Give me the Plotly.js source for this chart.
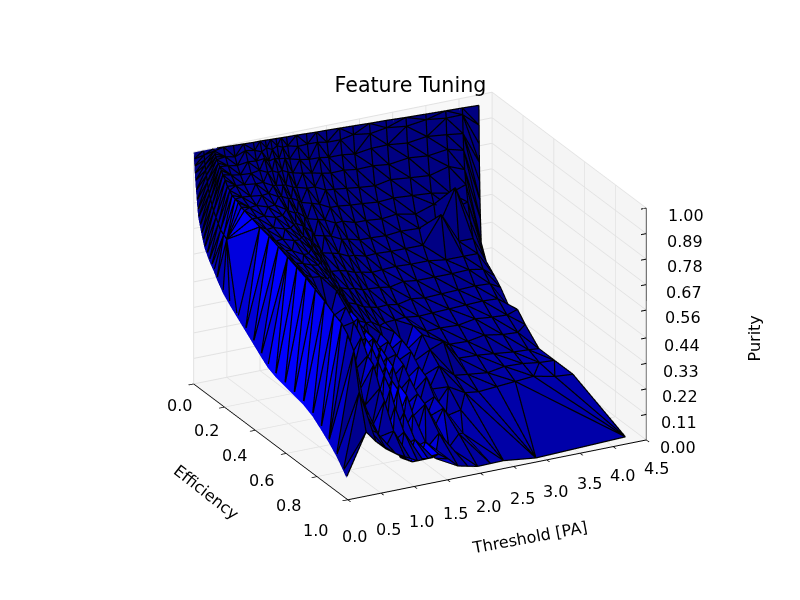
<!DOCTYPE html>
<html><head><meta charset="utf-8">
<script src="https://cdn.plot.ly/plotly-3.0.1.min.js"></script>
<style>html,body{margin:0;background:#fff}#c{width:800px;height:600px}</style></head>
<body><div id="c"></div>
<script>
const thresholds=[0,.15,.3,.45,.6,.75,.9,1.0,1.08,1.16,1.24,1.32,1.4,1.55,1.7,1.85,2.0,2.2,2.4,2.65,2.9,3.2,3.5,3.8,4.05,4.3];
const efficiency=[
[0,.002,.004,.007,.01,.015,.02,.025,.03,.04,.05,.06,.07,.085,.1,.115,.13,.15,.19,.235,.285,.335,.385,.435,.48,.53,.59,.65,.71,.77,.825,.875,.925,.97,.99],
[0,.003,.006,.009,.013,.018,.024,.03,.037,.045,.055,.065,.08,.095,.11,.13,.15],
[0,.005,.01,.015,.02,.03,.04,.05,.06,.075,.09,.105,.12,.14,.16,.18,.2,.25,.3,.36,.42,.48,.54,.6,.66,.72,.78,.83,.87,.91,.945,.9898],
[0,.012,.03,.05,.08,.12,.17,.22,.28,.34,.4,.47,.53,.6,.66,.71,.76,.8,.84,.87,.9,.94,.9896],
[0,.01,.025,.045,.07,.11,.15,.2,.26,.32,.38,.45,.51,.57,.63,.68,.73,.77,.81,.85,.88,.93,.989],
[0,.013,.03,.05,.08,.12,.16,.21,.27,.33,.39,.44,.5,.56,.61,.67,.71,.75,.79,.83,.87,.92,.9888],
[0,.009,.02,.04,.065,.1,.14,.19,.24,.3,.36,.42,.48,.54,.6,.65,.7,.74,.78,.82,.85,.91,.988],
[0,.012,.03,.05,.085,.12,.17,.22,.27,.33,.39,.45,.51,.56,.62,.66,.71,.75,.79,.82,.86,.91,.9878],
[0,.008,.022,.045,.07,.105,.15,.2,.25,.31,.37,.43,.49,.55,.6,.65,.69,.73,.77,.81,.84,.9,.9875],
[0,.011,.028,.05,.08,.115,.16,.21,.26,.32,.38,.44,.5,.54,.59,.64,.68,.72,.76,.8,.85,.9,.987],
[0,.008,.02,.04,.065,.1,.14,.19,.24,.3,.36,.42,.47,.53,.58,.63,.67,.71,.75,.79,.83,.9,.9867],
[0,.01,.025,.045,.075,.11,.15,.2,.25,.31,.37,.41,.46,.52,.57,.62,.66,.7,.74,.78,.84,.9,.9862],
[0,.007,.02,.04,.065,.095,.135,.18,.23,.29,.35,.4,.45,.5,.56,.61,.65,.69,.73,.78,.82,.9,.9858],
[0,.009,.022,.04,.07,.1,.14,.18,.23,.28,.34,.39,.45,.5,.55,.6,.64,.68,.73,.78,.84,.9,.9848],
[0,.006,.018,.035,.055,.085,.12,.16,.21,.26,.31,.37,.42,.48,.53,.58,.63,.67,.72,.77,.86,.9837],
[0,.008,.02,.035,.06,.09,.125,.165,.21,.25,.3,.35,.41,.46,.51,.56,.62,.66,.71,.76,.86,.9826],
[0,.005,.015,.03,.05,.075,.105,.14,.18,.225,.27,.33,.38,.44,.49,.55,.6,.65,.7,.76,.86,.9814],
[0,.006,.016,.028,.045,.07,.1,.13,.17,.21,.26,.31,.36,.42,.47,.52,.58,.63,.69,.8,.9795],
[0,.004,.012,.025,.04,.06,.085,.115,.15,.19,.24,.29,.34,.39,.45,.5,.56,.62,.7,.9775],
[0,.005,.012,.022,.035,.055,.08,.105,.14,.17,.22,.27,.32,.37,.43,.48,.55,.62],
[0,.003,.01,.019,.03,.048,.068,.095,.125,.16,.2,.25,.3,.35,.41,.47,.53,.6,.9718],
[0,.004,.009,.017,.028,.042,.062,.085,.11,.145,.185,.23,.28,.34,.4,.46,.53,.59],
[0,.002,.007,.014,.024,.036,.052,.072,.1,.13,.17,.21,.26,.32,.38,.44,.51,.58],
[0,.003,.006,.012,.02,.03,.044,.062,.085,.115,.15,.19,.24,.3,.37,.44,.5,.57],
[0,.002,.005,.009,.015,.024,.036,.05,.07,.1,.135,.18,.23,.29,.36,.43,.5,.6],
[0,.001,.002,.003,.005,.007,.01,.015,.05,.1,.14,.2,.25,.3,.39,.49,.61,.95]];
const purity=[
[1,.97,.94,.91,.88,.84,.8,.76,.73,.7,.67,.645,.62,.6,.58,.565,.55,.525,.485,.455,.425,.395,.365,.335,.31,.295,.285,.275,.265,.245,.215,.185,.15,.11,.09],
[1,.98,.96,.94,.92,.9,.875,.85,.83,.81,.79,.77,.75,.73,.71,.7,.69],
[.998,.99,.98,.97,.96,.95,.94,.93,.915,.9,.88,.87,.855,.85,.845,.835,.83,.82,.81,.8,.785,.77,.755,.74,.72,.7,.675,.66,.63,.58,.42,.27],
[.996,.96,.93,.9,.87,.84,.82,.8,.78,.76,.75,.73,.71,.69,.66,.62,.56,.5,.44,.38,.32,.25,.22],
[.994,.95,.92,.89,.86,.83,.81,.79,.77,.75,.73,.71,.68,.62,.6,.52,.47,.4,.36,.3,.27,.22,.18],
[.992,.97,.93,.89,.86,.83,.8,.78,.76,.74,.71,.69,.67,.52,.5,.38,.36,.3,.26,.18,.16,.14,.15],
[.99,.96,.92,.89,.85,.82,.79,.77,.74,.72,.69,.67,.64,.62,.58,.54,.5,.44,.42,.34,.3,.2,.12],
[.99,.95,.93,.88,.84,.81,.78,.74,.71,.69,.66,.63,.6,.46,.42,.32,.3,.22,.2,.14,.12,.08,.1],
[.989,.96,.91,.88,.83,.8,.76,.73,.7,.67,.63,.6,.56,.53,.52,.46,.44,.4,.36,.32,.26,.18,.1],
[.988,.95,.92,.87,.83,.79,.75,.72,.68,.64,.6,.56,.52,.4,.38,.26,.24,.2,.14,.12,.08,.06,.1],
[.987,.96,.91,.87,.82,.78,.74,.7,.66,.62,.57,.53,.48,.46,.45,.44,.4,.36,.32,.3,.22,.14,.1],
[.986,.95,.91,.86,.81,.77,.72,.68,.63,.58,.54,.5,.44,.36,.34,.28,.22,.18,.12,.1,.06,.05,.1],
[.985,.95,.9,.85,.8,.75,.7,.65,.6,.55,.51,.47,.42,.41,.4,.38,.36,.34,.28,.26,.2,.12,.11],
[.984,.94,.89,.84,.79,.74,.69,.64,.59,.54,.49,.45,.4,.3,.28,.22,.18,.14,.12,.08,.05,.04,.08],
[.982,.94,.88,.83,.78,.72,.67,.62,.57,.52,.47,.42,.38,.36,.35,.32,.3,.26,.22,.2,.12,.04],
[.98,.94,.88,.82,.76,.7,.65,.6,.55,.5,.45,.4,.35,.26,.24,.18,.16,.12,.1,.08,.05,.03],
[.979,.93,.87,.81,.75,.69,.64,.58,.53,.48,.43,.38,.34,.33,.32,.3,.26,.24,.18,.16,.1,.02],
[.977,.93,.87,.81,.74,.68,.62,.56,.51,.46,.42,.37,.33,.22,.2,.16,.14,.1,.08,.06,.02],
[.975,.94,.86,.8,.73,.67,.61,.55,.5,.45,.4,.35,.32,.31,.3,.26,.22,.16,.1,.02],
[.972,.93,.87,.8,.72,.66,.6,.54,.49,.44,.4,.35,.3,.26,.22,.27,.16,.12],
[.97,.94,.87,.79,.73,.66,.6,.54,.48,.43,.38,.33,.29,.25,.21,.18,.14,.1,0],
[.966,.93,.86,.8,.72,.65,.58,.53,.47,.42,.37,.32,.28,.24,.2,.17,.13,.1],
[.963,.94,.87,.79,.71,.64,.6,.5,.58,.4,.36,.31,.27,.24,.2,.15,.13,.1],
[.96,.93,.86,.8,.73,.62,.56,.66,.44,.39,.35,.3,.26,.22,.18,.14,.12,.1],
[.958,.93,.85,.78,.7,.64,.57,.5,.43,.38,.33,.29,.25,.21,.17,.13,.11,.1],
[.955,.87,.79,.71,.63,.55,.47,.37,.3,.27,.24,.18,.2,.16,.1,.1,.1,0]];
const xTicks=[0,.5,1,1.5,2,2.5,3,3.5,4,4.5];
const yTicks=[0,.2,.4,.6,.8,1];
const zTicks=[0,.11,.22,.33,.44,.56,.67,.78,.89,1];
const zLabels=['0.00','0.11','0.22','0.33','0.44','0.56','0.67','0.78','0.89','1.00'];
const eye={x:-0.502,y:-0.972,z:0.4606};
const aspect={x:1.135,y:1.135,z:.85};

const X=[],Y=[],Z=[];
thresholds.forEach((t,c)=>efficiency[c].forEach((e,r)=>{X.push(t);Y.push(e);Z.push(purity[c][r]);}));
function delaunay(px,py){
  const n=px.length,S=1e3,ax=px.concat([-S,S*2,0]),ay=py.concat([-S,-S,S*2]);
  let tris=[[n,n+1,n+2]];
  const inC=(t,p)=>{const[a,b,c]=t;
    const x1=ax[a]-ax[p],y1=ay[a]-ay[p],x2=ax[b]-ax[p],y2=ay[b]-ay[p],x3=ax[c]-ax[p],y3=ay[c]-ay[p];
    const d=(x1*x1+y1*y1)*(x2*y3-x3*y2)-(x2*x2+y2*y2)*(x1*y3-x3*y1)+(x3*x3+y3*y3)*(x1*y2-x2*y1);
    const o=(ax[b]-ax[a])*(ay[c]-ay[a])-(ay[b]-ay[a])*(ax[c]-ax[a]);
    return o>0?d>1e-14:d<-1e-14;};
  for(let p=0;p<n;p++){
    const bad=[],keep=[];
    tris.forEach(t=>(inC(t,p)?bad:keep).push(t));
    const m=new Map();
    bad.forEach(t=>[[t[0],t[1]],[t[1],t[2]],[t[2],t[0]]].forEach(([u,v])=>{
      const k=u<v?u+'_'+v:v+'_'+u;m.set(k,m.has(k)?null:[u,v]);}));
    m.forEach(e=>{if(e)keep.push([e[0],e[1],p]);});
    tris=keep;
  }
  return tris.filter(t=>t.every(v=>v<n));
}
const tri=delaunay(X,Y);
const I=[],J=[],K=[],fc=[],lx=[],ly=[],lz=[];
const seen=new Set();
const norm=Math.hypot(eye.x,eye.y,eye.z);
const eps=0.006, ox=eps*eye.x/norm*4.5/aspect.x, oy=-eps*eye.y/norm/aspect.y, oz=eps*eye.z/norm/aspect.z;
tri.forEach(([a,b,c])=>{
  I.push(a);J.push(b);K.push(c);
  const u=[X[b]-X[a],Y[b]-Y[a],Z[b]-Z[a]],v=[X[c]-X[a],Y[c]-Y[a],Z[c]-Z[a]];
  let n=[u[1]*v[2]-u[2]*v[1],u[2]*v[0]-u[0]*v[2],u[0]*v[1]-u[1]*v[0]];
  if(n[2]<0)n=n.map(q=>-q);
  const l=Math.hypot(...n)||1;
  const sh=(-0.667*n[0]-0.667*n[1]+0.333*n[2])/l;
  const s=sh<.333? .7+(sh-.333)*.2 : .7+(sh-.333);
  fc.push('rgb(0,0,'+Math.round(255*Math.min(1,s))+')');
  [[a,b],[b,c],[c,a]].forEach(([p,q])=>{const k=p<q?p+'_'+q:q+'_'+p;if(seen.has(k))return;seen.add(k);
    lx.push(X[p]+ox,X[q]+ox,null);ly.push(Y[p]+oy,Y[q]+oy,null);lz.push(Z[p]+oz,Z[q]+oz,null);});
});
const zx=[4.5,4.5,null],zy=[1,1,null],zz=[0,1,null];
zTicks.forEach(v=>{zx.push(4.42,4.5,null);zy.push(1,1,null);zz.push(v,v,null);});
const tf={family:'DejaVu Sans',size:16,color:'#000'};
const ax=(extra)=>Object.assign({title:{text:''},showticklabels:false,showgrid:true,gridcolor:'rgb(226,226,226)',gridwidth:2,
  showbackground:true,showline:true,linecolor:'#000',linewidth:2,ticks:'outside',ticklen:6,tickcolor:'#000',tickwidth:2,
  zeroline:false,showspikes:false},extra);
const note=(x,y,z,text,xs,ys,extra)=>Object.assign({x,y,z,text,xshift:xs,yshift:ys,showarrow:false,font:tf,xanchor:'center',yanchor:'middle'},extra||{});
const anns=[];
xTicks.forEach(v=>anns.push(note(v,1,0,v.toFixed(1),7+.7*v,-37+2*v)));
yTicks.forEach(v=>anns.push(note(0,v,0,v.toFixed(1),-14-18*v,-21-10*v)));
zTicks.forEach((v,i)=>anns.push(note(4.5,1,v,zLabels[i],32+8*v,-7.5)));
anns.push(note(2.25,1,0,'Threshold [PA]',32,-67,{textangle:-10.5}));
anns.push(note(0,.5,0,'Efficiency',-64,-50,{textangle:38}));
anns.push(note(4.5,1,.5,'Purity',108,-14,{textangle:-90}));
Plotly.newPlot('c',[
 {type:'mesh3d',x:X,y:Y,z:Z,i:I,j:J,k:K,facecolor:fc,flatshading:true,
  lighting:{ambient:1,diffuse:0,specular:0,roughness:1,fresnel:0},hoverinfo:'skip'},
 {type:'scatter3d',mode:'lines',x:lx,y:ly,z:lz,line:{color:'#000',width:2.5},connectgaps:false,hoverinfo:'skip'},
 {type:'scatter3d',mode:'lines',x:zx,y:zy,z:zz,line:{color:'#000',width:2},connectgaps:false,hoverinfo:'skip'}
],{
 width:800,height:600,margin:{l:0,r:0,t:0,b:0},showlegend:false,paper_bgcolor:'#fff',
 title:{text:'Feature Tuning',font:{family:'DejaVu Sans',size:20.6,color:'#000'},x:0.513,xanchor:'center',y:0.858,yanchor:'middle'},
 scene:{domain:{x:[.05,1],y:[.013,1]},
  aspectmode:'manual',aspectratio:aspect,
  camera:{projection:{type:'orthographic'},eye:eye,center:{x:0,y:0,z:0},up:{x:0,y:0,z:1}},
  annotations:anns,
  xaxis:ax({range:[0,4.5],tickvals:xTicks,backgroundcolor:'rgb(245,245,245)'}),
  yaxis:ax({range:[1,0],tickvals:yTicks,backgroundcolor:'rgb(248,248,248)'}),
  zaxis:ax({range:[0,1],tickvals:zTicks,ticks:'',showline:false,backgroundcolor:'rgb(246,246,246)'})
 }
},{displayModeBar:false});
</script></body></html>
